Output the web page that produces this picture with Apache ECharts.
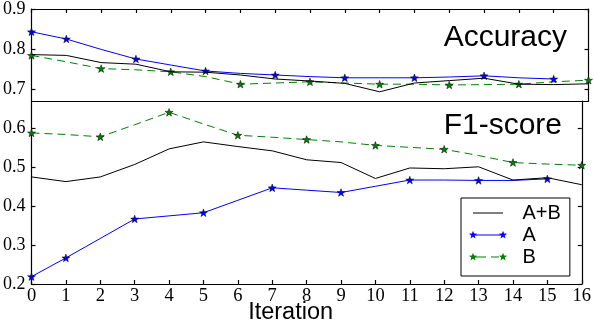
<!DOCTYPE html>
<html>
<head>
<meta charset="utf-8">
<script src="https://cdn.jsdelivr.net/npm/echarts@6/dist/echarts.min.js"></script>
<style>
	html, body {margin: 0; padding: 0; background: #fff;}
	#chart {width: 594px; height: 330px;}
</style>
</head>
<body>
<div id="chart"></div>
<script type="text/javascript">
	// x axis: training iterations
	var iterations = [0, 1, 2, 3, 4, 5, 6, 7, 8, 9, 10, 11, 12, 13, 14, 15, 16];

	// top panel: accuracy
	var accAB = [0.786, 0.784, 0.766, 0.762, 0.743, 0.742, 0.735, 0.725, 0.720, 0.714, 0.693, 0.715, 0.721, 0.727, 0.712, 0.711, 0.713];
	var accA  = [0.843, 0.825, 0.799, 0.775, 0.760, 0.745, 0.739, 0.735, 0.731, 0.728, 0.728, 0.728, 0.730, 0.733, 0.728, 0.725];
	var accB  = [0.784, 0.768, 0.751, 0.748, 0.743, 0.731, 0.712, 0.715, 0.718, 0.715, 0.712, 0.712, 0.710, 0.711, 0.712, 0.718, 0.722];

	// bottom panel: F1-score
	var f1AB = [0.475, 0.463, 0.475, 0.507, 0.547, 0.565, 0.553, 0.542, 0.519, 0.512, 0.471, 0.498, 0.496, 0.501, 0.467, 0.473, 0.455];
	var f1A  = [0.219, 0.267, 0.317, 0.367, 0.375, 0.383, 0.415, 0.447, 0.441, 0.435, 0.451, 0.467, 0.467, 0.466, 0.466, 0.470];
	var f1B  = [0.588, 0.584, 0.578, 0.609, 0.641, 0.611, 0.582, 0.577, 0.571, 0.565, 0.556, 0.551, 0.546, 0.530, 0.512, 0.508, 0.505];

	// tick labels
	var accTicks = [0.7, 0.8, 0.9];
	var f1Ticks = [0.2, 0.3, 0.4, 0.5, 0.6];

	var names = ['A+B', 'A', 'B'];
	var colors = ['#000000', '#0000ff', '#008000'];
	// which points carry a star marker
	var markA = [0, 1, 3, 5, 7, 9, 11, 13, 15];
	var markB = [0, 2, 4, 6, 8, 10, 12, 14, 16];

	var serif = '"Liberation Serif", "Times New Roman", serif';
	var sans = '"Liberation Sans", Arial, sans-serif';

	function starPts(cx, cy, R, r) {
		var s = '';
		for (var k = 0; k < 10; k++) {
			var a = (-90 + k * 36) * Math.PI / 180;
			var rr = k % 2 ? r : R;
			s += (k ? 'L' : 'M') + (cx + rr * Math.cos(a)).toFixed(2) + ',' + (cy + rr * Math.sin(a)).toFixed(2);
		}
		return s + 'Z';
	}
	function rect(x0, x1) {
		return 'M' + x0 + ',4.5L' + x1 + ',4.5L' + x1 + ',5.5L' + x0 + ',5.5Z';
	}
	// tiny corner specks keep every legend icon the same 39x10 box
	var specks = 'M-4.5,0L-4.45,0L-4.5,0.05ZM34.5,10L34.45,10L34.5,9.95Z';
	var starSym = 'path://' + starPts(0, 0, 10, 4);
	var iconAB = 'path://' + specks + rect(0, 30);
	var iconA = 'path://' + specks + rect(0, 30) + starPts(0, 5, 4.3, 1.8) + starPts(30, 5, 4.3, 1.8);
	var iconB = 'path://' + specks + rect(0, 13) + rect(18, 26) + starPts(0, 5, 4.3, 1.8) + starPts(30, 5, 4.3, 1.8);

	function pts(vals, marks) {
		return vals.map(function (v, i) {
			var on = marks && marks.indexOf(i) > -1;
			return {value: [iterations[i], v], symbol: on ? starSym : 'none'};
		});
	}

	function line(name, vals, marks, grid) {
		var idx = names.indexOf(name);
		return {
			name: name,
			type: 'line',
			xAxisIndex: grid,
			yAxisIndex: grid * 2,
			data: pts(vals, marks),
			showSymbol: true,
			showAllSymbol: true,
			symbol: marks ? starSym : 'none',
			symbolSize: 8,
			symbolKeepAspect: true,
			itemStyle: {color: colors[idx], borderColor: '#000', borderWidth: 0.5},
			lineStyle: {color: colors[idx], width: 1, type: name == 'B' ? [8, 5] : 'solid'},
			emphasis: {disabled: true},
			z: 3 - idx
		};
	}

	function frame() {
		return {show: true, onZero: false, lineStyle: {color: '#000', width: 1.2}};
	}

	function yAx(grid, min, max, ticks, pos) {
		return {
			type: 'value', gridIndex: grid, position: pos, min: min, max: max,
			axisLine: frame(),
			splitLine: {show: false},
			axisTick: {show: true, inside: true, length: 4, customValues: ticks, lineStyle: {color: '#000', width: 1.2}},
			axisLabel: {
				show: pos == 'left', customValues: ticks, margin: 6,
				fontFamily: serif, fontSize: 18, lineHeight: 16, color: '#000',
				formatter: function (v) { return v.toFixed(1); }
			}
		};
	}

	var myChart = echarts.init(document.getElementById('chart'));
	var option = {
		animation: false,
		backgroundColor: '#fff',
		title: [
			{text: 'Accuracy', right: 27, top: 23, padding: 0,
				textStyle: {fontFamily: sans, fontSize: 30, fontWeight: 'normal', color: '#000'}},
			{text: 'F1-score', right: 32, top: 111, padding: 0,
				textStyle: {fontFamily: sans, fontSize: 30, fontWeight: 'normal', color: '#000'}}
		],
		legend: {
			orient: 'vertical',
			left: 461,
			top: 198,
			padding: [4, 9, 8, 7.5],
			itemWidth: 39,
			itemHeight: 10,
			itemGap: 0,
			borderColor: '#000',
			borderWidth: 1,
			backgroundColor: '#fff',
			selectedMode: false,
			itemStyle: {borderWidth: 0},
			textStyle: {fontFamily: sans, fontSize: 20, lineHeight: 22, color: '#000', padding: [0, 0, 0, 10]},
			data: [
				{name: 'A+B', icon: iconAB},
				{name: 'A', icon: iconA},
				{name: 'B', icon: iconB}
			]
		},
		grid: [
			{left: 24, right: 5.5, top: 9, height: 92},
			{left: 24, right: 5.5, top: 101, height: 192}
		],
		xAxis: [
			{
				type: 'value', gridIndex: 0, position: 'top', min: 0, max: 16, interval: 1,
				axisLine: frame(),
				splitLine: {show: false},
				axisTick: {show: true, inside: true, length: 4, lineStyle: {color: '#000', width: 1.2}},
				axisLabel: {show: false}
			},
			{
				type: 'value', gridIndex: 1, position: 'bottom', min: 0, max: 16, interval: 1,
				name: 'Iteration',
				nameLocation: 'middle',
				nameGap: 18,
				nameMoveOverlap: false,
				nameTextStyle: {fontFamily: sans, fontSize: 23.5, lineHeight: 22, color: '#000', verticalAlign: 'top', padding: [0, 32, 0, 0]},
				axisLine: frame(),
				splitLine: {show: false},
				axisTick: {show: true, inside: true, length: 4, lineStyle: {color: '#000', width: 1.2}},
				axisLabel: {margin: 3, fontFamily: serif, fontSize: 18.5, color: '#000'}
			},
			{
				// divider between the two panels
				type: 'value', gridIndex: 0, position: 'bottom', min: 0, max: 16, interval: 1,
				axisLine: frame(),
				splitLine: {show: false},
				axisTick: {show: false},
				axisLabel: {show: false}
			}
		],
		yAxis: [
			yAx(0, 0.67, 0.9, accTicks, 'left'),
			yAx(0, 0.67, 0.9, accTicks, 'right'),
			yAx(1, 0.2, 0.67, f1Ticks, 'left'),
			yAx(1, 0.2, 0.67, f1Ticks, 'right')
		],
		series: [
			line('A+B', accAB, null, 0),
			line('A', accA, markA, 0),
			line('B', accB, markB, 0),
			line('A+B', f1AB, null, 1),
			line('A', f1A, markA, 1),
			line('B', f1B, markB, 1)
		]
	};
	myChart.setOption(option);
</script>
</body>
</html>
